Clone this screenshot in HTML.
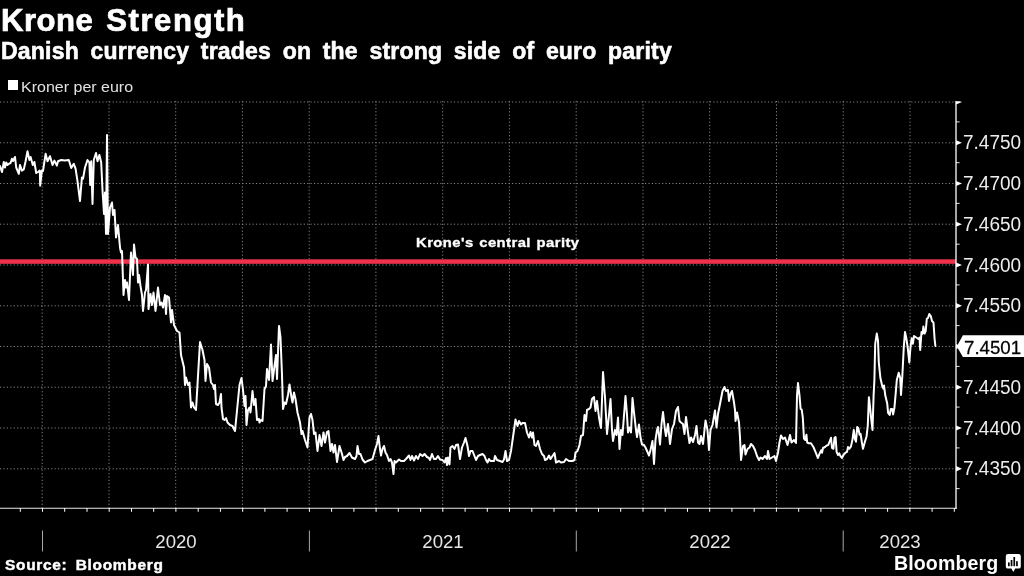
<!DOCTYPE html>
<html><head><meta charset="utf-8"><title>Krone Strength</title>
<style>
html,body{margin:0;padding:0;background:#000;}
body{width:1024px;height:576px;overflow:hidden;position:relative;font-family:"Liberation Sans",sans-serif;color:#fff;}
.t{position:absolute;white-space:nowrap;transform-origin:0 0;will-change:transform;}
#title{left:0.7px;top:3px;font-size:30.5px;font-weight:bold;line-height:34px;letter-spacing:0.5px;word-spacing:3.6px;transform:scaleX(1.02);-webkit-text-stroke:0.7px #fff;}
#sub{left:0.8px;top:37.5px;font-size:23px;font-weight:bold;line-height:26px;letter-spacing:0.2px;word-spacing:5px;transform:scaleX(1.0);-webkit-text-stroke:0.6px #fff;}
#leg{left:20.8px;top:76.6px;font-size:15.4px;line-height:20px;color:#e2e2e2;transform:scaleX(1.04);}
#legsq{position:absolute;left:7.6px;top:80.2px;width:10.3px;height:10px;background:#fff;}
.yl{will-change:transform;position:absolute;left:963px;width:61px;font-size:19px;line-height:22px;transform:scaleY(1.05);color:#ededed;white-space:nowrap;}
.yl.flag{color:#000;left:964px;font-size:18.7px;transform:scaleY(1.02);-webkit-text-stroke:0.25px #000;}
.yr{will-change:transform;position:absolute;top:530.7px;width:80px;text-align:center;font-size:18.6px;line-height:22px;color:#e6e6e6;}
#src{left:5.1px;top:556.7px;font-size:13.8px;font-weight:bold;line-height:18px;letter-spacing:0.62px;word-spacing:3px;transform:scaleX(1.12);-webkit-text-stroke:0.4px #fff;}
#bb{left:894px;top:550.6px;font-size:19.6px;font-weight:bold;line-height:24px;letter-spacing:0.1px;}
</style></head><body>
<svg width="1024" height="576" viewBox="0 0 1024 576" style="position:absolute;left:0;top:0"><g stroke="#888888" stroke-width="1" stroke-dasharray="1.15 2.263" fill="none"><line x1="42.2" y1="101" x2="42.2" y2="508"/><line x1="109.0" y1="101" x2="109.0" y2="508"/><line x1="175.7" y1="101" x2="175.7" y2="508"/><line x1="242.4" y1="101" x2="242.4" y2="508"/><line x1="309.2" y1="101" x2="309.2" y2="508"/><line x1="375.9" y1="101" x2="375.9" y2="508"/><line x1="442.7" y1="101" x2="442.7" y2="508"/><line x1="509.4" y1="101" x2="509.4" y2="508"/><line x1="576.2" y1="101" x2="576.2" y2="508"/><line x1="643.0" y1="101" x2="643.0" y2="508"/><line x1="709.7" y1="101" x2="709.7" y2="508"/><line x1="776.5" y1="101" x2="776.5" y2="508"/><line x1="843.2" y1="101" x2="843.2" y2="508"/><line x1="910.0" y1="101" x2="910.0" y2="508"/><line x1="0" y1="102.0" x2="956" y2="102.0"/><line x1="0" y1="142.8" x2="956" y2="142.8"/><line x1="0" y1="183.5" x2="956" y2="183.5"/><line x1="0" y1="224.2" x2="956" y2="224.2"/><line x1="0" y1="265.0" x2="956" y2="265.0"/><line x1="0" y1="305.8" x2="956" y2="305.8"/><line x1="0" y1="346.5" x2="956" y2="346.5"/><line x1="0" y1="387.2" x2="956" y2="387.2"/><line x1="0" y1="428.0" x2="956" y2="428.0"/><line x1="0" y1="468.8" x2="956" y2="468.8"/></g><rect x="0" y="259.3" width="956" height="4.5" fill="#f0314b"/><polyline points="0.0,166.0 2.0,172.0 3.8,162.0 5.0,167.5 6.2,162.5 7.5,165.0 8.8,163.8 10.6,163.0 11.9,158.8 13.0,161.0 15.0,157.0 16.2,167.5 18.8,173.8 20.0,165.0 21.9,170.6 23.8,169.4 25.6,161.2 27.5,151.2 29.4,160.0 30.6,157.0 32.8,165.0 34.4,162.0 36.2,173.0 38.0,172.0 39.8,170.6 40.2,185.6 41.9,170.6 43.0,171.0 45.6,153.8 47.5,161.2 50.0,156.2 52.5,165.0 54.4,160.6 56.9,165.6 58.0,161.2 61.2,160.0 65.0,160.6 68.8,160.0 71.2,168.0 73.8,163.8 75.6,168.8 77.5,181.2 80.0,201.0 81.9,177.5 83.0,178.8 85.0,167.5 87.5,160.0 89.4,162.5 90.2,185.0 91.2,161.2 92.5,204.0 93.8,160.0 96.0,153.0 97.5,161.2 99.4,155.0 101.2,162.5 102.5,190.0 104.0,214.0 105.0,192.5 106.0,234.0 107.0,135.0 108.0,234.0 110.0,207.5 112.0,202.5 113.0,215.0 114.5,210.0 116.0,237.5 118.0,225.0 120.0,247.5 121.0,252.5 122.0,251.0 123.5,295.0 125.0,280.0 126.0,287.5 127.0,282.5 129.0,300.0 131.0,252.5 133.0,275.0 134.0,244.5 135.5,257.5 137.0,259.0 138.0,282.5 139.0,275.0 140.5,286.0 142.0,295.0 143.0,311.0 145.0,292.5 146.0,290.0 148.0,264.5 148.5,309.0 150.5,294.0 152.0,305.0 153.5,292.5 155.5,311.0 158.0,287.5 160.0,305.0 161.5,302.5 163.0,307.5 165.0,295.0 166.0,314.0 167.0,296.0 169.0,297.5 171.0,322.5 172.0,310.0 174.0,325.0 177.0,331.0 179.5,332.5 181.0,355.0 184.0,367.5 185.0,385.0 186.0,377.5 188.0,385.0 189.5,382.5 191.0,407.5 192.5,402.5 194.0,407.5 196.0,410.0 200.0,342.0 202.5,350.0 204.5,360.0 205.5,381.0 207.0,364.0 209.0,367.5 211.0,382.5 213.0,385.0 214.0,389.0 215.0,385.0 216.0,404.0 218.0,405.0 219.5,402.5 221.0,394.0 221.5,407.5 223.0,419.0 224.5,420.0 226.0,418.0 227.5,422.5 230.0,425.0 232.5,426.0 235.0,431.0 239.5,385.0 241.5,378.0 243.0,390.0 244.5,406.0 245.5,396.0 246.5,425.0 248.0,410.0 249.5,407.5 250.5,412.5 252.5,391.0 254.0,405.0 255.5,399.0 257.0,420.0 259.0,419.0 259.5,422.5 261.0,420.0 262.5,421.0 264.5,389.0 266.0,386.0 267.0,369.0 269.0,380.0 271.0,344.5 272.5,381.0 274.5,366.0 276.0,355.0 277.0,379.0 279.0,326.0 280.5,337.5 282.0,375.0 283.0,409.0 284.5,402.5 286.0,404.0 288.0,395.0 289.5,384.5 291.5,397.5 292.5,402.5 294.0,392.5 295.5,399.0 297.5,412.5 300.0,422.5 301.5,434.0 302.5,431.0 305.0,440.0 307.5,447.5 309.5,417.5 311.0,414.0 312.5,420.0 314.0,434.0 315.5,432.5 317.5,451.0 319.5,435.0 321.5,446.0 323.5,432.5 325.0,442.5 327.0,432.0 328.5,431.0 330.5,451.0 332.0,444.0 333.5,452.5 335.0,445.0 337.0,462.0 339.5,446.0 342.0,454.0 343.5,460.0 345.0,457.0 347.0,456.0 349.5,453.0 352.0,457.5 355.0,459.0 356.5,456.0 357.5,446.0 359.0,454.0 360.5,454.0 362.5,459.5 365.0,462.5 367.5,461.0 370.0,460.0 372.5,459.0 375.0,450.0 377.0,444.0 378.5,436.0 380.0,449.0 381.0,455.5 382.5,449.0 384.0,446.0 385.5,452.5 387.0,455.0 389.0,461.0 390.5,459.0 392.0,462.5 393.5,474.0 394.5,461.0 396.0,462.5 399.0,459.5 401.0,461.0 404.0,461.0 406.0,459.0 409.0,455.5 410.5,460.0 412.0,456.0 414.0,460.5 416.0,456.0 418.0,459.0 420.0,454.0 422.5,456.0 424.5,454.0 427.0,457.0 429.0,458.0 430.0,460.0 432.0,454.0 434.0,459.0 436.0,459.0 438.0,456.0 440.0,459.5 442.5,460.0 444.5,462.5 446.0,458.0 447.0,465.0 448.0,457.5 449.5,464.5 450.5,447.5 452.5,446.0 454.5,449.0 456.0,445.0 458.0,444.5 460.0,459.0 462.0,447.5 464.0,442.5 465.5,438.0 467.5,446.0 469.0,456.0 470.5,451.0 472.5,451.0 474.5,456.0 476.0,460.0 478.0,456.0 480.0,455.0 482.5,454.0 484.5,456.0 486.0,460.0 487.5,462.5 489.0,459.0 490.5,461.0 494.0,461.0 495.0,456.0 497.0,460.0 500.0,461.0 502.5,462.0 504.0,459.5 505.5,451.0 507.0,461.0 509.0,460.0 511.0,451.0 514.0,430.0 515.5,419.5 517.5,426.0 519.0,421.0 521.0,424.5 522.5,423.0 525.0,423.0 527.0,432.5 529.0,437.5 530.5,432.0 532.0,437.5 533.0,432.5 534.5,445.0 536.0,446.0 538.0,441.0 540.0,449.0 542.0,454.0 544.0,456.0 545.0,460.0 547.0,459.0 549.0,455.5 550.5,459.0 552.5,456.0 554.5,453.0 556.0,462.5 559.0,461.0 561.0,462.5 564.0,462.0 566.0,459.0 569.0,461.0 572.5,461.0 574.5,460.0 575.5,452.5 577.5,451.0 579.5,445.0 581.0,436.0 583.0,435.0 584.5,415.0 586.0,421.0 587.0,410.0 589.0,409.0 590.5,407.5 592.0,399.0 594.0,397.0 595.5,411.0 597.0,401.0 599.0,417.5 600.5,426.0 601.0,428.0 603.0,372.0 605.0,397.5 607.0,434.0 609.0,415.0 610.5,399.0 612.0,430.0 613.0,441.0 615.0,430.0 616.5,435.0 618.0,417.5 619.5,449.0 621.0,430.0 622.5,435.0 625.5,396.0 627.0,415.0 628.0,432.5 629.5,427.5 631.0,432.5 632.5,398.0 634.0,412.5 636.0,430.0 637.0,437.0 639.0,424.5 640.5,437.5 642.0,444.5 644.0,445.0 645.5,447.5 647.5,452.0 649.0,455.5 650.5,450.0 652.5,441.0 654.0,464.0 655.5,440.0 657.0,430.0 658.0,427.0 660.0,444.5 661.5,424.0 663.0,412.0 665.0,430.0 666.0,436.0 668.0,424.0 670.0,444.0 672.0,429.0 674.0,424.0 676.0,411.0 678.0,407.0 679.5,421.0 681.0,422.5 683.0,424.0 684.5,434.0 686.0,417.0 688.0,432.5 689.5,443.0 691.0,437.5 693.0,442.0 695.0,435.0 696.5,426.0 698.0,442.5 699.5,444.0 701.0,436.0 703.0,444.0 705.5,420.5 707.5,430.0 709.0,450.0 710.5,430.0 712.5,425.0 715.0,410.5 716.5,427.5 718.0,414.0 720.0,404.0 722.5,391.0 724.5,387.0 726.0,391.0 728.0,390.0 729.0,401.0 730.5,394.0 732.0,391.0 734.0,402.5 735.0,410.0 735.5,421.0 737.0,412.5 739.0,422.5 740.0,437.5 741.0,460.0 743.0,446.0 744.5,445.0 745.5,454.5 747.5,449.0 749.5,447.5 751.0,444.0 753.0,446.0 755.0,450.0 757.0,456.0 759.0,460.0 760.5,457.5 762.5,459.0 765.0,456.0 767.0,459.0 768.0,451.0 769.5,459.0 772.0,457.5 774.5,456.0 776.0,461.0 778.0,452.5 779.5,442.5 781.0,435.5 783.0,439.0 785.0,437.5 787.5,445.0 790.0,435.0 791.5,442.5 794.0,440.0 796.0,443.0 797.0,395.6 798.0,383.0 799.5,395.6 800.6,409.0 801.7,409.7 802.8,417.5 804.0,438.6 805.3,440.0 806.4,434.7 807.2,442.5 808.8,443.3 811.0,443.3 813.4,447.0 815.8,452.7 817.8,458.0 819.7,453.4 821.2,450.3 822.0,452.7 823.0,448.0 825.0,447.0 826.7,445.6 828.3,444.8 829.8,441.0 831.0,437.8 832.0,448.0 833.4,448.8 834.5,437.8 835.6,437.0 836.6,451.9 838.0,455.0 839.2,453.4 840.3,455.8 841.9,458.0 843.4,455.0 845.5,452.7 847.0,451.9 848.0,447.0 849.4,448.8 851.0,446.4 852.5,439.4 853.8,430.0 854.8,438.6 856.0,441.7 857.2,426.9 858.4,428.4 859.5,434.7 860.6,433.9 861.9,442.5 863.0,448.8 864.7,442.5 866.6,436.2 867.8,425.3 868.9,397.2 870.0,406.6 871.2,419.0 872.5,430.0 873.6,395.6 874.4,380.0 875.2,343.8 876.8,333.6 878.0,340.6 878.8,362.5 880.4,378.0 882.2,386.0 883.4,388.6 884.0,385.5 885.3,395.6 887.2,403.4 888.1,412.8 889.7,415.0 890.8,409.0 892.3,409.0 893.1,414.4 894.4,408.0 895.5,395.6 896.8,380.0 898.7,372.7 900.2,378.0 901.0,395.0 902.3,376.5 903.8,346.9 905.0,332.0 906.2,337.5 907.8,348.4 909.3,362.5 910.5,346.9 911.7,338.3 912.8,343.8 914.0,336.0 916.3,337.5 918.4,339.0 919.5,337.5 920.2,350.0 921.5,332.0 922.6,333.6 923.4,326.6 924.6,333.6 925.7,331.2 926.8,318.8 928.0,318.0 929.3,314.0 930.9,316.4 932.0,321.0 933.5,322.7 934.6,339.0 935.4,346.0" fill="none" stroke="#ffffff" stroke-width="2" stroke-linejoin="round" stroke-linecap="round"/><g stroke="#ffffff" fill="none"><line x1="956" y1="101" x2="956" y2="509" stroke-width="1.3"/><line x1="0" y1="508.2" x2="956.8" y2="508.2" stroke-width="1.15" stroke="#e8e8e8"/><line x1="20.3" y1="508" x2="20.3" y2="511.8" stroke-width="1"/><line x1="42.5" y1="508" x2="42.5" y2="511.8" stroke-width="1"/><line x1="64.7" y1="508" x2="64.7" y2="511.8" stroke-width="1"/><line x1="87.0" y1="508" x2="87.0" y2="511.8" stroke-width="1"/><line x1="109.2" y1="508" x2="109.2" y2="511.8" stroke-width="1"/><line x1="131.5" y1="508" x2="131.5" y2="511.8" stroke-width="1"/><line x1="153.7" y1="508" x2="153.7" y2="511.8" stroke-width="1"/><line x1="175.9" y1="508" x2="175.9" y2="511.8" stroke-width="1"/><line x1="198.2" y1="508" x2="198.2" y2="511.8" stroke-width="1"/><line x1="220.4" y1="508" x2="220.4" y2="511.8" stroke-width="1"/><line x1="242.7" y1="508" x2="242.7" y2="511.8" stroke-width="1"/><line x1="264.9" y1="508" x2="264.9" y2="511.8" stroke-width="1"/><line x1="287.1" y1="508" x2="287.1" y2="511.8" stroke-width="1"/><line x1="309.4" y1="508" x2="309.4" y2="511.8" stroke-width="1"/><line x1="331.6" y1="508" x2="331.6" y2="511.8" stroke-width="1"/><line x1="353.9" y1="508" x2="353.9" y2="511.8" stroke-width="1"/><line x1="376.1" y1="508" x2="376.1" y2="511.8" stroke-width="1"/><line x1="398.3" y1="508" x2="398.3" y2="511.8" stroke-width="1"/><line x1="420.6" y1="508" x2="420.6" y2="511.8" stroke-width="1"/><line x1="442.8" y1="508" x2="442.8" y2="511.8" stroke-width="1"/><line x1="465.1" y1="508" x2="465.1" y2="511.8" stroke-width="1"/><line x1="487.3" y1="508" x2="487.3" y2="511.8" stroke-width="1"/><line x1="509.5" y1="508" x2="509.5" y2="511.8" stroke-width="1"/><line x1="531.8" y1="508" x2="531.8" y2="511.8" stroke-width="1"/><line x1="554.0" y1="508" x2="554.0" y2="511.8" stroke-width="1"/><line x1="576.3" y1="508" x2="576.3" y2="511.8" stroke-width="1"/><line x1="598.5" y1="508" x2="598.5" y2="511.8" stroke-width="1"/><line x1="620.7" y1="508" x2="620.7" y2="511.8" stroke-width="1"/><line x1="643.0" y1="508" x2="643.0" y2="511.8" stroke-width="1"/><line x1="665.2" y1="508" x2="665.2" y2="511.8" stroke-width="1"/><line x1="687.5" y1="508" x2="687.5" y2="511.8" stroke-width="1"/><line x1="709.7" y1="508" x2="709.7" y2="511.8" stroke-width="1"/><line x1="731.9" y1="508" x2="731.9" y2="511.8" stroke-width="1"/><line x1="754.2" y1="508" x2="754.2" y2="511.8" stroke-width="1"/><line x1="776.4" y1="508" x2="776.4" y2="511.8" stroke-width="1"/><line x1="798.7" y1="508" x2="798.7" y2="511.8" stroke-width="1"/><line x1="820.9" y1="508" x2="820.9" y2="511.8" stroke-width="1"/><line x1="843.1" y1="508" x2="843.1" y2="511.8" stroke-width="1"/><line x1="865.4" y1="508" x2="865.4" y2="511.8" stroke-width="1"/><line x1="887.6" y1="508" x2="887.6" y2="511.8" stroke-width="1"/><line x1="909.9" y1="508" x2="909.9" y2="511.8" stroke-width="1"/><line x1="932.1" y1="508" x2="932.1" y2="511.8" stroke-width="1"/><line x1="954.3" y1="508" x2="954.3" y2="511.8" stroke-width="1"/><line x1="956" y1="121.9" x2="959.6" y2="121.9" stroke-width="0.9"/><line x1="956" y1="162.7" x2="959.6" y2="162.7" stroke-width="0.9"/><line x1="956" y1="203.4" x2="959.6" y2="203.4" stroke-width="0.9"/><line x1="956" y1="244.2" x2="959.6" y2="244.2" stroke-width="0.9"/><line x1="956" y1="284.9" x2="959.6" y2="284.9" stroke-width="0.9"/><line x1="956" y1="325.6" x2="959.6" y2="325.6" stroke-width="0.9"/><line x1="956" y1="366.4" x2="959.6" y2="366.4" stroke-width="0.9"/><line x1="956" y1="407.1" x2="959.6" y2="407.1" stroke-width="0.9"/><line x1="956" y1="447.9" x2="959.6" y2="447.9" stroke-width="0.9"/><line x1="956" y1="488.6" x2="959.6" y2="488.6" stroke-width="0.9"/></g><clipPath id="cp"><rect x="900" y="101.3" width="124" height="420"/></clipPath><g fill="#ffffff" clip-path="url(#cp)"><path d="M956 99.4 L962 102.0 L956 104.6 Z"/><path d="M956 140.2 L962 142.8 L956 145.3 Z"/><path d="M956 180.9 L962 183.5 L956 186.1 Z"/><path d="M956 221.7 L962 224.2 L956 226.8 Z"/><path d="M956 262.4 L962 265.0 L956 267.6 Z"/><path d="M956 303.1 L962 305.8 L956 308.4 Z"/><path d="M956 343.9 L962 346.5 L956 349.1 Z"/><path d="M956 384.6 L962 387.2 L956 389.9 Z"/><path d="M956 425.4 L962 428.0 L956 430.6 Z"/><path d="M956 466.1 L962 468.8 L956 471.4 Z"/></g><g stroke="#a8a8a8" stroke-width="1"><line x1="42.5" y1="530.5" x2="42.5" y2="551.5"/><line x1="309.4" y1="530.5" x2="309.4" y2="551.5"/><line x1="576.3" y1="530.5" x2="576.3" y2="551.5"/><line x1="843.2" y1="530.5" x2="843.2" y2="551.5"/></g><path d="M956.8 346.6 L962.9 335.3 L1024 335.3 L1024 356.9 L962.9 356.9 Z" fill="#ffffff"/><g><path d="M1008 554 H1018.6 Q1020.8 554 1020.8 556.2 V566.4 Q1020.8 568.6 1018.6 568.6 H1015.2 L1013.3 571.9 L1011.4 568.6 H1008 Q1005.8 568.6 1005.8 566.4 V556.2 Q1005.8 554 1008 554 Z" fill="#ffffff"/><g fill="#000000"><rect x="1008" y="562.4" width="1.7" height="3.8"/><rect x="1010.7" y="560" width="1.7" height="6.2"/><rect x="1013.4" y="557" width="1.7" height="9.2"/><rect x="1016.1" y="561.2" width="1.7" height="5"/></g></g></svg>
<div id="title" class="t">Krone <span style="letter-spacing:1.5px">Strength</span></div>
<div id="sub" class="t">Danish currency trades on the strong side of euro parity</div>
<div id="legsq"></div>
<div id="leg" class="t">Kroner per euro</div>
<div id="ann" class="t" style="left:415.5px;top:234.5px;font-size:13.6px;font-weight:bold;line-height:16px;letter-spacing:0.4px;word-spacing:1px;transform:scaleX(1.09);-webkit-text-stroke:0.35px #fff">Krone's central parity</div>
<div class="yl" style="top:132.3px">7.4750</div><div class="yl" style="top:173.1px">7.4700</div><div class="yl" style="top:213.8px">7.4650</div><div class="yl" style="top:254.6px">7.4600</div><div class="yl" style="top:295.4px">7.4550</div><div class="yl" style="top:376.9px">7.4450</div><div class="yl" style="top:417.6px">7.4400</div><div class="yl" style="top:458.4px">7.4350</div><div class="yl flag" style="top:336.7px">7.4501</div>
<div class="yr" style="left:135.9px">2020</div><div class="yr" style="left:402.8px">2021</div><div class="yr" style="left:669.7px">2022</div><div class="yr" style="left:859.5px">2023</div>
<div id="src" class="t">Source: Bloomberg</div>
<div id="bb" class="t">Bloomberg</div>
</body></html>
